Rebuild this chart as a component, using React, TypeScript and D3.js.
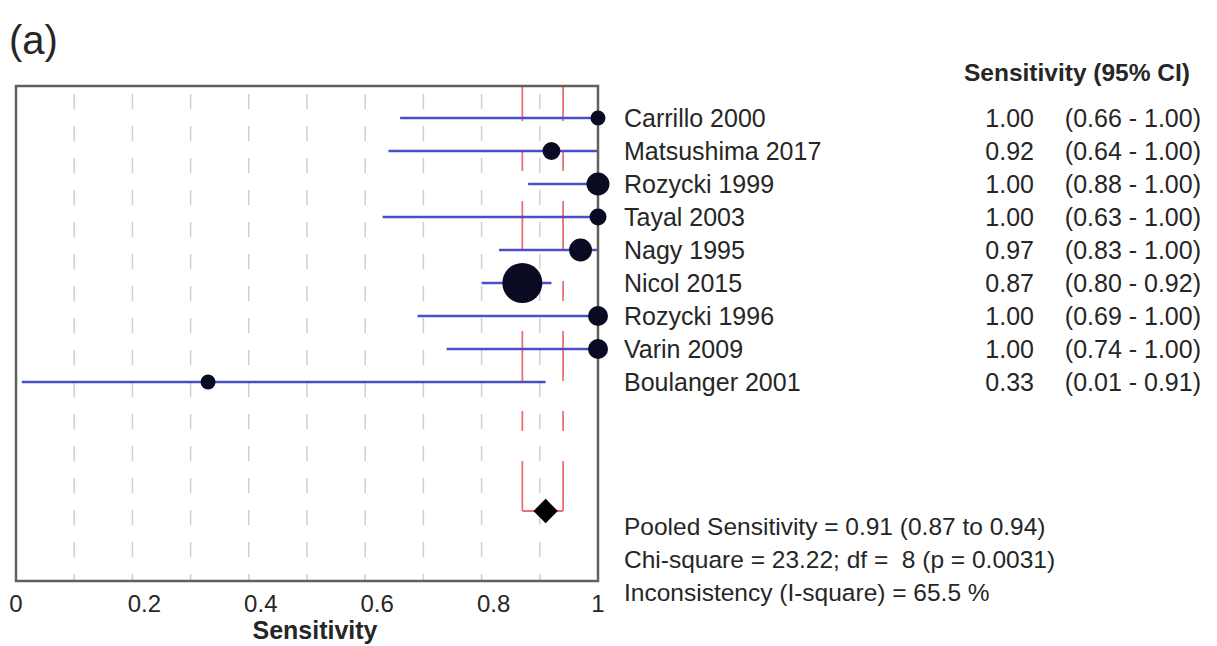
import React from "react";
import * as d3 from "d3";

const studies = ["Carrillo 2000", "Matsushima 2017", "Rozycki 1999", "Tayal 2003", "Nagy 1995", "Nicol 2015", "Rozycki 1996", "Varin 2009", "Boulanger 2001"];
const sens = [1.0, 0.92, 1.0, 1.0, 0.97, 0.87, 1.0, 1.0, 0.33];
const lower = [0.66, 0.64, 0.88, 0.63, 0.83, 0.8, 0.69, 0.74, 0.01];
const upper = [1.0, 1.0, 1.0, 1.0, 1.0, 0.92, 1.0, 1.0, 0.91];
const weights = [14, 20, 33, 18, 33, 100, 25, 25, 14];
const pooled = { est: 0.91, lo: 0.87, hi: 0.94 };
const xTicks = [0, 0.2, 0.4, 0.6, 0.8, 1];
const gridVals = [0.1, 0.2, 0.3, 0.4, 0.5, 0.6, 0.7, 0.8, 0.9];
const statLines = [
  "Pooled Sensitivity = 0.91 (0.87 to 0.94)",
  "Chi-square = 23.22; df =  8 (p = 0.0031)",
  "Inconsistency (I-square) = 65.5 %",
];

const W = 1217, H = 646;
const L = 16, R = 598, T = 86, B = 581;
const FONT = "'Liberation Sans', Arial, Helvetica, sans-serif";
const TXT = "#262626";

export default function App() {
  const x = d3.scaleLinear().domain([0, 1]).range([L, R]);
  const y = d3.scalePoint<string>().domain(studies).range([118, 382]);
  const r = d3.scaleSqrt().domain([0, 100]).range([0, 20]);
  const yPool = 511;
  const fmt = d3.format(".2f");
  const diamond = d3.symbol().type(d3.symbolDiamond2).size(380)();
  return (
    <svg width={W} height={H} style={{ position: "fixed", left: 0, top: 0, background: "#fff" }} fontFamily={FONT}>
      <rect x={0} y={0} width={W} height={H} fill="#fff" />
      <text x={9} y={54} fontSize={40} fill={TXT}>(a)</text>
      {/* grid */}
      {gridVals.map((g) => (
        <line key={g} x1={x(g)} x2={x(g)} y1={T} y2={B} stroke="#cfcfcf" strokeWidth={1.5} strokeDasharray="15,17" strokeDashoffset={-8} />
      ))}
      {/* pooled CI red lines */}
      {[pooled.lo, pooled.hi].map((v) => (
        <line key={v} x1={x(v)} x2={x(v)} y1={yPool} y2={T} stroke="#e87272" strokeWidth={1.8} strokeDasharray="50,30,20,30" />
      ))}
      <line x1={x(pooled.lo)} x2={x(pooled.hi)} y1={yPool} y2={yPool} stroke="#e87272" strokeWidth={1.8} />
      {/* CI lines */}
      {studies.map((s, i) => (
        <line key={s} x1={x(lower[i])} x2={x(upper[i])} y1={y(s)} y2={y(s)} stroke="#4b4fc6" strokeWidth={2.5} />
      ))}
      {/* frame */}
      <rect x={L} y={T} width={R - L} height={B - T} fill="none" stroke="#606060" strokeWidth={2.5} />
      {/* points */}
      {studies.map((s, i) => (
        <circle key={s} cx={x(sens[i])} cy={y(s)} r={r(weights[i])} fill="#0a0a22" />
      ))}
      <path d={diamond || ""} transform={`translate(${x(pooled.est)},${yPool})`} fill="#000" />
      {/* x axis labels */}
      {xTicks.map((t, i) => (
        <text key={t} x={x(t) + (i === 0 || i === xTicks.length - 1 ? 0 : 12)} y={612} fontSize={24} textAnchor="middle" fill={TXT}>
          {d3.format("~g")(t)}
        </text>
      ))}
      <text x={315} y={639} fontSize={25} fontWeight="bold" textAnchor="middle" fill={TXT}>Sensitivity</text>
      {/* right side */}
      <text x={1190} y={81} fontSize={24.5} fontWeight="bold" textAnchor="end" fill={TXT}>Sensitivity (95% CI)</text>
      {studies.map((s, i) => (
        <g key={s}>
          <text x={624} y={(y(s) as number) + 9} fontSize={25} fill={TXT}>{s}</text>
          <text x={1034} y={(y(s) as number) + 9} fontSize={25} textAnchor="end" fill={TXT}>{fmt(sens[i])}</text>
          <text x={1201} y={(y(s) as number) + 9} fontSize={25} textAnchor="end" fill={TXT}>{`(${fmt(lower[i])} - ${fmt(upper[i])})`}</text>
        </g>
      ))}
      {statLines.map((l, i) => (
        <text key={i} x={624} y={535 + i * 33} fontSize={24.5} fill={TXT} style={{ whiteSpace: "pre" }}>{l}</text>
      ))}
    </svg>
  );
}
